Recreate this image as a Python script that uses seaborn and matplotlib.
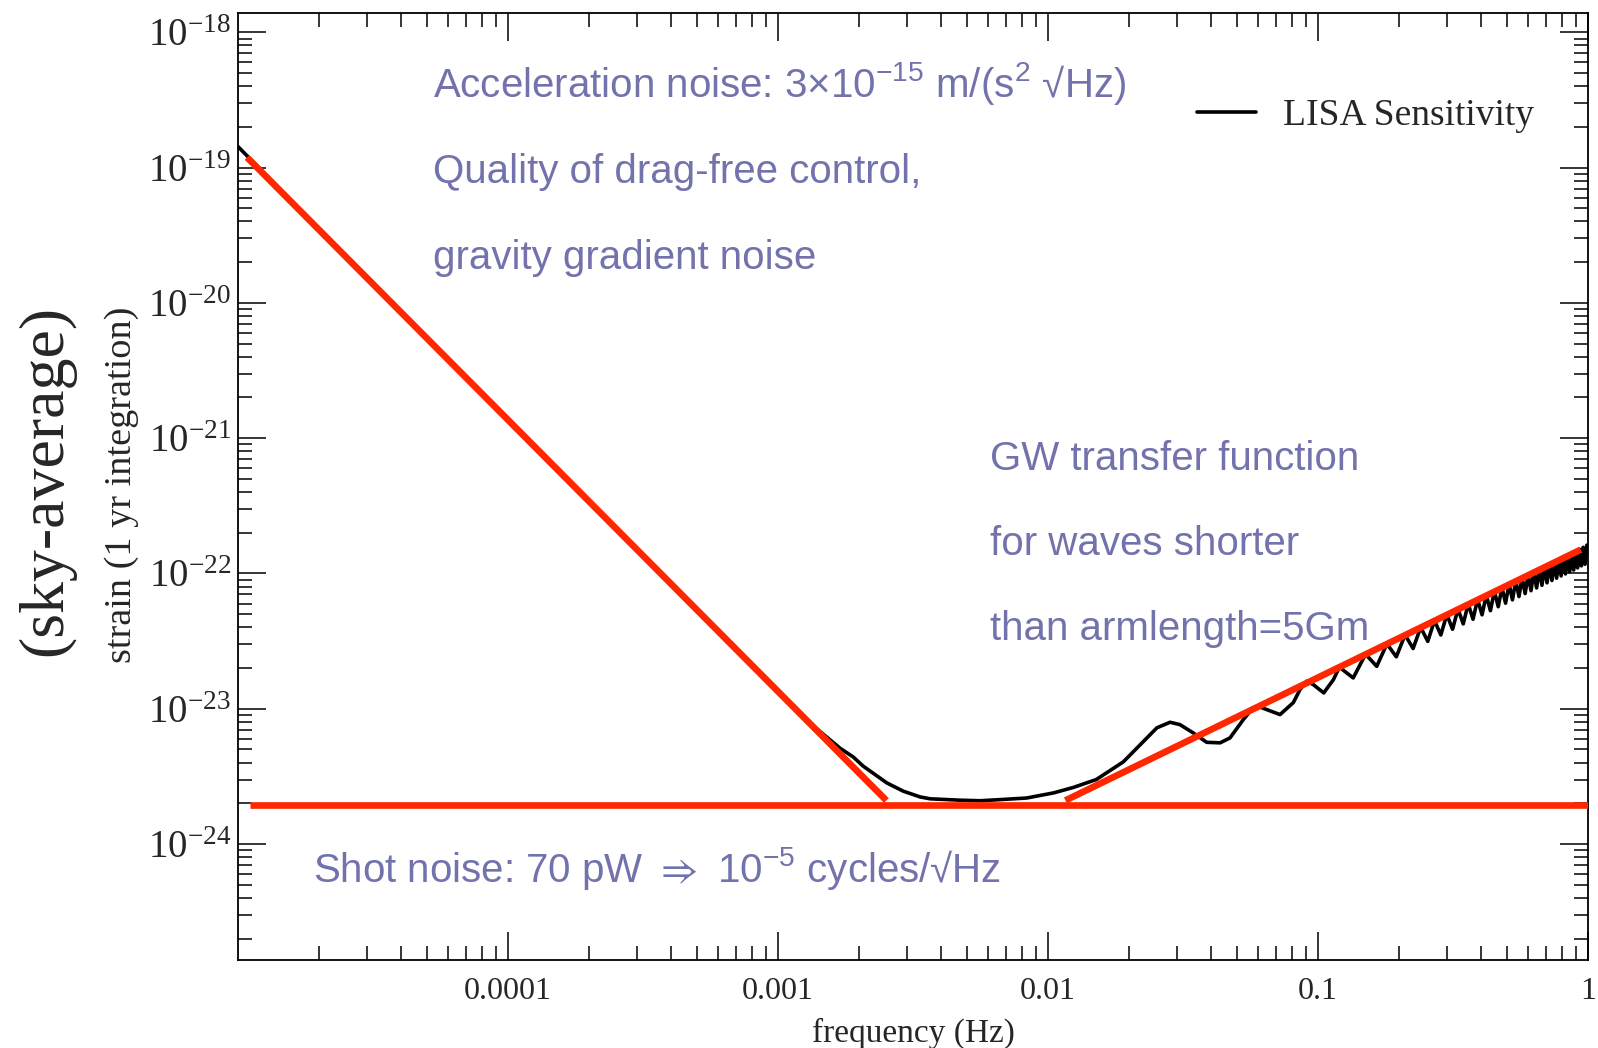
import numpy as np
import pandas as pd
import matplotlib
matplotlib.use("Agg")
import matplotlib.pyplot as plt
import seaborn as sns
from matplotlib.ticker import LogLocator, NullFormatter

# LISA sky-averaged strain sensitivity, 1 yr integration
sens_freq = [
    1.0e-5, 2.0e-5, 5.0e-5, 1.0e-4, 3.0e-4, 1.0e-3, 1.37e-3, 1.7e-3, 1.9e-3,
    2.07e-3, 2.53e-3, 2.91e-3, 3.36e-3, 3.66e-3, 4.72e-3, 5.6e-3, 6.64e-3,
    8.34e-3, 1.05e-2, 1.24e-2, 1.51e-2, 1.9e-2, 2.26e-2, 2.53e-2, 2.83e-2,
    3.08e-2, 3.45e-2, 3.87e-2, 4.34e-2, 4.72e-2, 5.29e-2, 5.75e-2, 6.1e-2,
    6.46e-2, 7.23e-2, 8.1e-2, 8.58e-2, 9.08e-2, 9.6e-2, 0.105, 0.114,
    0.12, 0.135, 0.15, 0.165, 0.18, 0.195, 0.21, 0.225, 0.24, 0.255,
    0.27, 0.285, 0.30, 0.315, 0.33, 0.345, 0.36, 0.375, 0.39, 0.405,
    0.42, 0.435, 0.45, 0.465, 0.48, 0.495, 0.51, 0.525, 0.54, 0.555,
    0.57, 0.585, 0.60, 0.615, 0.63, 0.645, 0.66, 0.675, 0.69, 0.705,
    0.72, 0.735, 0.75, 0.765, 0.78, 0.795, 0.81, 0.825, 0.84, 0.855,
    0.87, 0.885, 0.90, 0.915, 0.93, 0.945, 0.96, 0.975, 0.99, 1.0,
]
sens_strain = [
    1.43e-19, 3.5e-20, 5.55e-21, 1.38e-21, 1.52e-22, 1.37e-23, 7.3e-24, 5.1e-24, 4.4e-24,
    3.76e-24, 2.83e-24, 2.46e-24, 2.23e-24, 2.16e-24, 2.11e-24, 2.09e-24, 2.13e-24,
    2.19e-24, 2.39e-24, 2.62e-24, 3.0e-24, 4.05e-24, 5.75e-24, 7.23e-24, 7.95e-24,
    7.64e-24, 6.63e-24, 5.65e-24, 5.6e-24, 6.09e-24, 8.32e-24, 1.02e-23, 1.03e-23,
    9.86e-24, 9.06e-24, 1.11e-23, 1.39e-23, 1.6e-23, 1.51e-23, 1.31e-23, 1.64e-23,
    2.03e-23, 1.69e-23, 2.53e-23, 2.06e-23, 3.02e-23, 2.42e-23, 3.52e-23, 2.79e-23, 4.0e-23, 3.15e-23,
    4.49e-23, 3.51e-23, 4.98e-23, 3.87e-23, 5.47e-23, 4.24e-23, 5.96e-23, 4.59e-23, 6.44e-23, 4.95e-23,
    6.92e-23, 5.31e-23, 7.41e-23, 5.68e-23, 7.89e-23, 6.03e-23, 8.38e-23, 6.38e-23, 8.85e-23, 6.75e-23,
    9.33e-23, 7.10e-23, 9.82e-23, 7.46e-23, 1.03e-22, 7.82e-23, 1.08e-22, 8.17e-23, 1.12e-22, 8.53e-23,
    1.17e-22, 8.87e-23, 1.22e-22, 9.23e-23, 1.27e-22, 9.59e-23, 1.32e-22, 9.93e-23, 1.36e-22, 1.03e-22,
    1.41e-22, 1.06e-22, 1.46e-22, 1.10e-22, 1.51e-22, 1.14e-22, 1.56e-22, 1.17e-22, 1.62e-22, 1.40e-22,
]

# Noise asymptotes
accel_freq = [1.08e-5, 2.52e-3]
accel_strain = [1.19e-19, 2.1e-24]
shot_freq = [1.11e-5, 1.0]
shot_strain = [1.96e-24, 1.96e-24]
transfer_freq = [0.0116, 0.94]
transfer_strain = [2.1e-24, 1.5e-22]

x_ticks = [1e-4, 1e-3, 1e-2, 1e-1, 1.0]
x_tick_labels = ["0.0001", "0.001", "0.01", "0.1", "1"]
y_ticks = [1e-24, 1e-23, 1e-22, 1e-21, 1e-20, 1e-19, 1e-18]
y_tick_labels = [r"$\mathregular{10^{-24}}$", r"$\mathregular{10^{-23}}$",
                 r"$\mathregular{10^{-22}}$", r"$\mathregular{10^{-21}}$",
                 r"$\mathregular{10^{-20}}$", r"$\mathregular{10^{-19}}$",
                 r"$\mathregular{10^{-18}}$"]

sns.set_style("ticks")
plt.rcParams["font.family"] = ["Liberation Serif", "DejaVu Serif"]
plt.rcParams["mathtext.fontset"] = "custom"
plt.rcParams["mathtext.rm"] = "Liberation Serif"
plt.rcParams["mathtext.sf"] = "Liberation Sans"
plt.rcParams["mathtext.fallback"] = "stix"

RED = "#ff2600"
NOTE = "#7272ad"
SANS = ["Liberation Sans", "DejaVu Sans"]

fig = plt.figure(figsize=(15.98, 10.48), dpi=100)
ax = fig.add_axes([0.14894, 0.08397, 0.84481, 0.90363])

sens = pd.DataFrame({"f": sens_freq, "h": sens_strain})
sns.lineplot(data=sens, x="f", y="h", ax=ax, color="black", lw=2.6,
             sort=False, estimator=None, label="LISA Sensitivity", zorder=2)
for fx, hy in [(accel_freq, accel_strain), (shot_freq, shot_strain),
               (transfer_freq, transfer_strain)]:
    sns.lineplot(x=fx, y=hy, ax=ax, color=RED, lw=4.8, sort=False,
                 estimator=None, legend=False, zorder=3,
                 solid_capstyle="butt")

ax.set_xscale("log")
ax.set_yscale("log")
ax.set_xlim(1e-5, 1.0)
ax.set_ylim(1.39e-25, 1.39e-18)

ax.set_xticks(x_ticks)
ax.set_xticklabels(x_tick_labels)
ax.set_yticks(y_ticks)
ax.set_yticklabels(y_tick_labels)
for axis in (ax.xaxis, ax.yaxis):
    axis.set_minor_locator(LogLocator(base=10, subs=np.arange(2, 10), numticks=60))
    axis.set_minor_formatter(NullFormatter())

ax.tick_params(which="both", direction="in", top=True, right=True,
               width=1.1, color="black")
ax.tick_params(which="major", length=20)
ax.tick_params(which="minor", length=10)
ax.tick_params(axis="x", which="major", pad=12, labelsize=23)
ax.tick_params(axis="y", which="major", pad=5, labelsize=28)
for sp in ax.spines.values():
    sp.set_linewidth(1.3)
    sp.set_color("black")

ax.set_xlabel("frequency (Hz)", fontsize=24, labelpad=9)
ax.set_ylabel("")
fig.text(122 / 1598, 1 - 485 / 1048, "strain (1 yr integration)", rotation=90,
         ha="center", va="center", fontsize=27.5)
fig.text(46 / 1598, 1 - 480 / 1048, "(sky-average)", rotation=90,
         ha="center", va="center", fontsize=46)

leg = ax.legend(loc="center left", bbox_to_anchor=(0.7104, 0.891), frameon=False,
                fontsize=27, handlelength=1.57, handletextpad=0.72,
                borderpad=0, borderaxespad=0)

notes = [
    (0.1444, 0.9110, r"Acceleration noise: 3×10$^{\mathsf{-15}}$ m/(s$^{\mathsf{2}}$ √Hz)"),
    (0.1444, 0.8210, "Quality of drag-free control,"),
    (0.1444, 0.7300, "gravity gradient noise"),
    (0.557, 0.5174, "GW transfer function"),
    (0.557, 0.4277, "for waves shorter"),
    (0.557, 0.3380, "than armlength=5Gm"),
    (0.0556, 0.0824, r"Shot noise: 70 pW $\Rightarrow$ 10$^{\mathsf{-5}}$ cycles/√Hz"),
]
for x, y, s in notes:
    ax.text(x, y, s, transform=ax.transAxes, fontsize=29, color=NOTE,
            family=SANS, ha="left", va="baseline")

fig.savefig("out.png", dpi=100)
